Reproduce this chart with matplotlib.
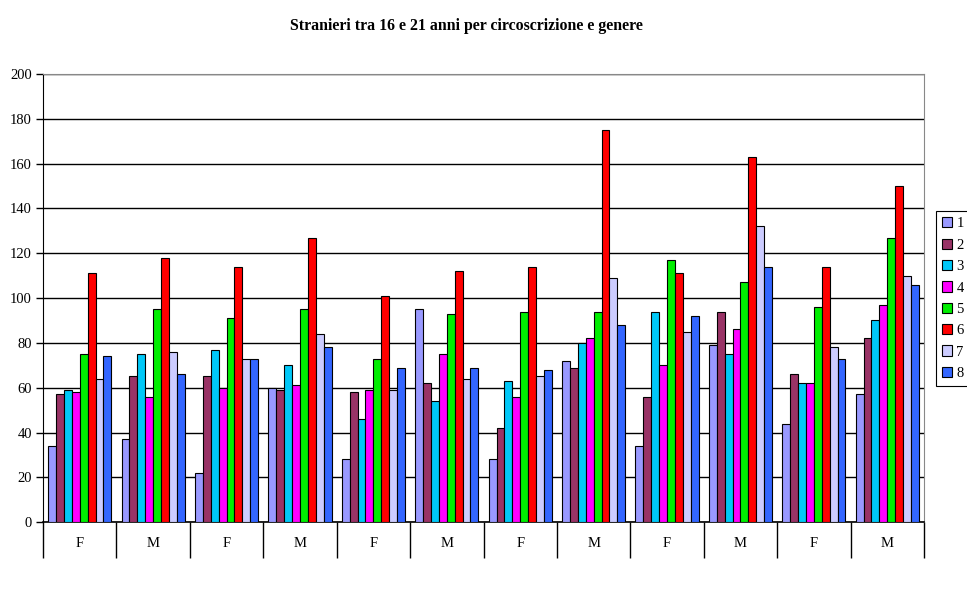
import numpy as np
import matplotlib
matplotlib.use('Agg')
import matplotlib.pyplot as plt

# categories (circoscrizione x genere) and series 1..8
categories = ['F', 'M', 'F', 'M', 'F', 'M', 'F', 'M', 'F', 'M', 'F', 'M']
series_names = ['1', '2', '3', '4', '5', '6', '7', '8']

s1 = [34, 37, 22, 60, 28, 95, 28, 72, 34, 79, 44, 57]
s2 = [57, 65, 65, 59, 58, 62, 42, 69, 56, 94, 66, 82]
s3 = [59, 75, 77, 70, 46, 54, 63, 80, 94, 75, 62, 90]
s4 = [58, 56, 60, 61, 59, 75, 56, 82, 70, 86, 62, 97]
s5 = [75, 95, 91, 95, 73, 93, 94, 94, 117, 107, 96, 127]
s6 = [111, 118, 114, 127, 101, 112, 114, 175, 111, 163, 114, 150]
s7 = [64, 76, 73, 84, 59, 64, 65, 109, 85, 132, 78, 110]
s8 = [74, 66, 73, 78, 69, 69, 68, 88, 92, 114, 73, 106]
all_series = [s1, s2, s3, s4, s5, s6, s7, s8]

colors = ['#9999FF', '#993366', '#00C8F8', '#FF00FF', '#00EE00', '#FF0000', '#CCCCFF', '#3366FF']

plt.rcParams['font.family'] = ['Liberation Serif', 'DejaVu Serif']

fig = plt.figure(figsize=(9.67, 5.92), dpi=100)
ax = fig.add_axes([0.0445, 0.118, 0.911, 0.757])

x = np.arange(len(categories))
n = len(all_series)
w = 1.0 / (n + 1.3)

for i, (vals, col, name) in enumerate(zip(all_series, colors, series_names)):
    ax.bar(x + (i - (n - 1) / 2) * w, vals, width=w, color=col,
           edgecolor='black', linewidth=0.8, label=name, zorder=3)

ax.set_xlim(-0.5, len(categories) - 0.5)
ax.set_ylim(0, 200)
ax.set_yticks(np.arange(0, 201, 20))
ax.grid(axis='y', color='black', linewidth=1, zorder=0)
ax.set_axisbelow(True)

# category labels in the middle, separators at the boundaries
ax.set_xticks(x)
ax.set_xticklabels(categories, fontsize=10.5)
ax.set_xticks(np.arange(-0.5, len(categories), 1), minor=True)
ax.tick_params(axis='x', which='major', length=0, pad=11)
ax.tick_params(axis='x', which='minor', length=26, width=1, color='black', direction='out')
ax.tick_params(axis='y', length=5, width=1, direction='out', labelsize=10.5, pad=3)

ax.spines['top'].set_color('#888888')
ax.spines['right'].set_color('#888888')
ax.spines['left'].set_color('black')
ax.spines['bottom'].set_color('black')
ax.spines['bottom'].set_linewidth(1.2)

fig.suptitle('Stranieri tra 16 e 21 anni per circoscrizione e genere',
             fontsize=11.4, fontweight='bold', x=0.482, y=0.97)

leg = ax.legend(loc='upper left', bbox_to_anchor=(0.968, 0.643),
                bbox_transform=fig.transFigure, fontsize=10.5, frameon=True,
                fancybox=False, edgecolor='black', framealpha=1,
                handlelength=0.7, handleheight=0.7, handletextpad=0.3,
                labelspacing=0.56, borderpad=0.4, borderaxespad=0)
leg.get_frame().set_linewidth(0.8)

plt.savefig('out.png', dpi=100)
